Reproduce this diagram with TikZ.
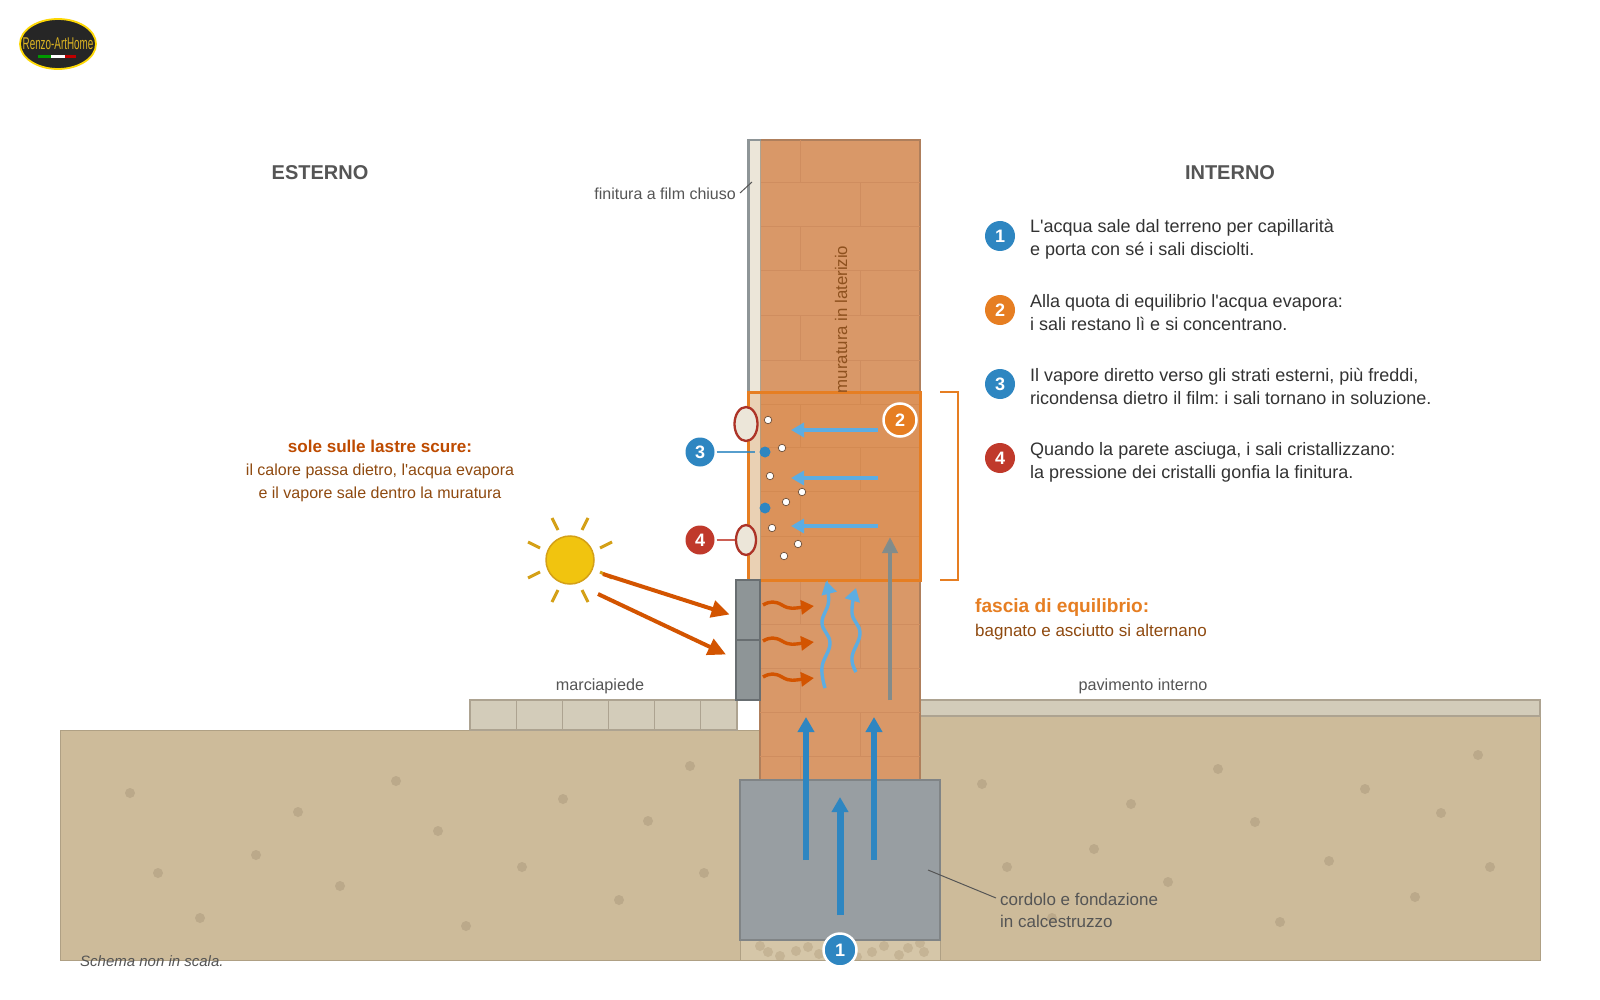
\documentclass[tikz,border=0pt]{standalone}
\usepackage{fontspec}
\setmainfont{Liberation Sans}
\usetikzlibrary{arrows.meta,calc,shapes.geometric}
\definecolor{soil}{HTML}{CDBB9A}
\definecolor{soildot}{HTML}{BBA98A}
\definecolor{soiledge}{HTML}{AFA084}
\definecolor{bedfill}{HTML}{D5C6A8}
\definecolor{stonefill}{HTML}{C5B495}
\definecolor{pave}{HTML}{D3CCBA}
\definecolor{paveedge}{HTML}{ADA391}
\definecolor{brick}{HTML}{D99868}
\definecolor{brickedge}{HTML}{AF7F5C}
\definecolor{joint}{HTML}{CF8D5F}
\definecolor{concrete}{HTML}{989EA2}
\definecolor{concreteedge}{HTML}{808486}
\definecolor{slab}{HTML}{8E9597}
\definecolor{slabedge}{HTML}{686E71}
\definecolor{film}{HTML}{ECE6D9}
\definecolor{bandorange}{HTML}{E67E22}
\definecolor{wetblue}{HTML}{2E86C1}
\definecolor{vapour}{HTML}{5DADE2}
\definecolor{heat}{HTML}{D35400}
\definecolor{blister}{HTML}{C0392B}
\definecolor{sunfill}{HTML}{F1C40F}
\definecolor{sunedge}{HTML}{D4A017}
\definecolor{inkgrey}{HTML}{555555}
\definecolor{inkdark}{HTML}{333333}
\definecolor{inkbrown}{HTML}{8F4A10}
\definecolor{riseGrey}{HTML}{7F8C8D}
\tikzset{
  x=1pt,y=-1pt,
  lab/.style={inner sep=0pt,text=inkgrey,font=\fontsize{16.2}{18}\selectfont},
  listline/.style={inner sep=0pt,anchor=base west,text=inkdark,font=\fontsize{18}{20}\selectfont},
  badge/.style={circle,fill=#1,text=white,inner sep=0pt,minimum size=30pt,font=\bfseries\fontsize{18}{20}\selectfont},
  ringbadge/.style={circle,fill=#1,draw=white,line width=2.5pt,text=white,inner sep=0pt,minimum size=33pt,font=\bfseries\fontsize{18}{20}\selectfont},
  soilgrain/.style={circle,fill=soildot,inner sep=0pt,minimum size=10pt},
  gravel/.style={circle,fill=stonefill,inner sep=0pt,minimum size=10pt},
  saltdot/.style={circle,fill=white,draw=brickedge!60!black,line width=0.7pt,inner sep=0pt,minimum size=7.5pt},
  wetdot/.style={circle,fill=wetblue,inner sep=0pt,minimum size=11pt},
  blisterblob/.style={ellipse,fill=film,draw=blister!90!black,line width=2.3pt,inner sep=0pt},
  capillary/.style={draw=wetblue,line width=#1,-{Triangle[length=15pt,width=16pt]}},
  vapourflow/.style={draw=vapour,line width=4pt,-{Triangle[length=13pt,width=14pt]}},
  vapourwave/.style={draw=vapour,line width=3.4pt,-{Triangle[length=13pt,width=15pt]}},
  heatwave/.style={draw=heat,line width=3.4pt,-{Triangle[length=13pt,width=14pt]}},
  sunbeam/.style={draw=heat,line width=4pt,-{Triangle[length=18pt,width=17pt]}},
  sunray/.style={draw=sunedge,line width=3pt},
  brickjoint/.style={draw=joint,line width=1pt},
  leader/.style={draw=inkgrey,line width=1pt},
}
\begin{document}
\frenchspacing
\begin{tikzpicture}
\useasboundingbox (0,0) rectangle (1600,1000);
\fill[white] (0,0) rectangle (1600,1000);

% ground on both sides of the wall
\draw[fill=soil,draw=soiledge,line width=1pt] (60,730) rectangle (760,960);
\draw[fill=soil,draw=soiledge,line width=1pt] (920,715) rectangle (1540,960);
\foreach \i/\p in {1/{130,793},2/{158,873},3/{200,918},4/{256,855},5/{298,812},6/{340,886},7/{396,781},8/{438,831},9/{466,926},10/{522,867},11/{563,799},12/{619,900},13/{648,821},14/{690,766},15/{704,873},
  16/{982,784},17/{1007,867},18/{1052,918},19/{1094,849},20/{1131,804},21/{1168,882},22/{1218,769},23/{1255,822},24/{1280,922},25/{1329,861},26/{1365,789},27/{1415,897},28/{1441,813},29/{1478,755},30/{1490,867}}
  \node[soilgrain] (grain\i) at (\p) {};

% outdoor pavement and indoor floor
\draw[fill=pave,draw=paveedge,line width=1.5pt] (470,700) rectangle (737,730);
\foreach \i/\x in {1/516,2/562,3/608,4/654,5/700}
  \draw[paveedge,line width=1pt] (\x,700) -- (\x,730);
\draw[fill=pave,draw=paveedge,line width=1.5pt] (920,700) rectangle (1540,716);

% gravel bed under the foundation
\fill[bedfill] (740,940) rectangle (940,960);
\begin{scope}
  \clip (740,940) rectangle (940,960);
  \foreach \i/\p in {1/{760,946},2/{768,952},3/{780,956},4/{796,951},5/{808,947},6/{819,954},7/{857,957},8/{872,952},9/{884,946},10/{899,955},11/{908,948},12/{920,943},13/{924,952}}
    \node[gravel] (stone\i) at (\p) {};
\end{scope}
\draw[soiledge,line width=1pt] (740,940) -- (740,960) -- (940,960) -- (940,940);

% brick wall with staggered joints
\draw[fill=brick,draw=brickedge,line width=2pt] (760,140) rectangle (920,780);
\foreach \y in {183,227,271,315,360,404,447,491,536,580,624,668,712,756}
  \draw[brickjoint] (760,\y) -- (920,\y);
\foreach \a/\b/\x in {140/183/800,183/227/860,227/271/800,271/315/860,315/360/800,360/404/860,404/447/800,447/491/860,491/536/800,536/580/860,580/624/800,624/668/860,668/712/800,712/756/860,756/780/800}
  \draw[brickjoint] (\x,\a) -- (\x,\b);

% closed film finish on the outer face
\fill[film] (748,140) rectangle (760,580);
\draw[paveedge,line width=1pt] (760,140) -- (760,580);
\draw[draw=slab,line width=3pt] (748,139) -- (748,392);
\draw[draw=slab,line width=1.5pt] (747,140) -- (761,140);

% equilibrium band
\fill[bandorange,fill opacity=0.2] (748,392) rectangle (920,580);
\draw[draw=bandorange,line width=3pt] (748,392) rectangle (920,580);
\coordinate (brA) at (940,392);
\coordinate (brB) at (958,392);
\coordinate (brC) at (958,580);
\coordinate (brD) at (940,580);
\draw[bandorange,line width=2.4pt] (brA) -- (brB) -- (brC) -- (brD);

% dark slabs at the wall foot
\draw[fill=slab,draw=slabedge,line width=2pt] (736,580) rectangle (760,640);
\draw[fill=slab,draw=slabedge,line width=2pt] (736,640) rectangle (760,700);

% foundation
\draw[fill=concrete,draw=concreteedge,line width=2pt] (740,780) rectangle (940,940);

% water rising from the ground
\coordinate (capAs) at (840,915); \coordinate (capAe) at (840,797);
\coordinate (capBs) at (806,860); \coordinate (capBe) at (806,717);
\coordinate (capCs) at (874,860); \coordinate (capCe) at (874,717);
\draw[capillary=6pt] (capBs) -- (capBe);
\draw[capillary=6pt] (capCs) -- (capCe);
\draw[capillary=7pt] (capAs) -- (capAe);

% vapour rising inside the masonry
\coordinate (riseS) at (890,700); \coordinate (riseE) at (890,537);
\draw[draw=riseGrey,draw opacity=0.95,line width=4.5pt,-{Triangle[length=16pt,width=15pt]}] (riseS) -- (riseE);
\draw[vapourwave] plot[smooth,tension=0.7] coordinates {(825,688) (822,667) (830,643) (822,623) (828.5,602) (826,581)};
\draw[vapourwave] plot[smooth,tension=0.7] coordinates {(856,672) (852,657) (860,633) (852,613) (856,588)};

% heat passing through the slabs
\foreach \i/\y in {1/606,2/642,3/678}
  \draw[heatwave] (763,\y-1) .. controls (770,\y-5) and (775,\y-5) .. (782,\y-1) .. controls (790,\y+4) and (795,\y+2) .. (814,\y);

% vapour driven outward
\foreach \i/\y in {1/430,2/478,3/526} {
  \coordinate (flowS\i) at (878,\y);
  \coordinate (flowE\i) at (791,\y);
  \draw[vapourflow] (flowS\i) -- (flowE\i);
}

% salts and condensation behind the film
\foreach \i/\p in {1/{768,420},2/{782,448},3/{770,476},4/{802,492},5/{786,502},6/{772,528},7/{798,544},8/{784,556}}
  \node[saltdot] (salt\i) at (\p) {};
\node[wetdot] (wetA) at (765,452) {};
\node[wetdot] (wetB) at (765,508) {};

% blisters in the finish
\node[blisterblob,minimum width=23pt,minimum height=34pt] (blisterA) at (746,424) {};
\node[blisterblob,minimum width=20pt,minimum height=30pt] (blisterB) at (746,540) {};

% numbered markers on the section
\node[badge=wetblue,minimum size=29pt] (markThree) at (700,452) {3};
\node[badge=blister,minimum size=29pt] (markFour) at (700,540) {4};
\draw[wetblue,draw opacity=0.8,line width=1.5pt,shorten <=2pt,shorten >=4pt] (markThree.east) -- (wetA.west);
\draw[blister,draw opacity=0.8,line width=1.5pt,shorten <=2pt] (markFour.east) -- (blisterB.west);
\node[ringbadge=bandorange] (markTwo) at (900,420) {2};
\node[ringbadge=wetblue] (markOne) at (840,950) {1};

% sun and its rays
\node[circle,fill=sunfill,draw=sunedge,line width=1.5pt,minimum size=48pt,inner sep=0pt] (sun) at (570,560) {};
\foreach \dx/\dy/\ex/\ey in {12/30/18/42,30/12/42/18,-12/30/-18/42,-30/12/-42/18,12/-30/18/-42,30/-12/42/-18,-12/-30/-18/-42,-30/-12/-42/-18}
  \draw[sunray] ($(sun.center)+(\dx,\dy)$) -- ($(sun.center)+(\ex,\ey)$);
\coordinate (beamAs) at (603,574); \coordinate (beamAe) at (729.5,614.5);
\coordinate (beamBs) at (598,594); \coordinate (beamBe) at (726,654.5);
\draw[sunbeam] (beamAs) -- (beamAe);
\draw[sunbeam] (beamBs) -- (beamBe);

% side headings
\node[inner sep=0pt,text=inkgrey,font=\bfseries\fontsize{20}{24}\selectfont] (headOut) at (320,173) {ESTERNO};
\node[inner sep=0pt,text=inkgrey,font=\bfseries\fontsize{20}{24}\selectfont] (headIn) at (1230,173) {INTERNO};

% construction labels
\node[lab,anchor=base east,font=\fontsize{16}{18}\selectfont] (lblFilm) at (736,200) {finitura a film chiuso};
\coordinate (filmTip) at (752,182);
\draw[leader] (740,193) -- (filmTip);
\node[lab,rotate=90,anchor=center,text=inkbrown!80!brick!90!black,font=\fontsize{16.8}{18}\selectfont] (lblWall) at (841,319.5) {muratura in laterizio};
\node[lab,anchor=base] (lblWalk) at (600,690) {marciapiede};
\node[lab,anchor=base] (lblFloor) at (1143,690) {pavimento interno};
\node[lab,anchor=base west,font=\fontsize{17}{18}\selectfont] (lblCurbA) at (1000,905) {cordolo e fondazione};
\node[lab,anchor=base west,font=\fontsize{17}{18}\selectfont] (lblCurbB) at (1000,927) {in calcestruzzo};
\coordinate (curbTip) at (928,870);
\coordinate (curbEnd) at (996,898);
\draw[leader] (curbTip) -- (curbEnd);

% note on the sun
\node[inner sep=0pt,anchor=base,text=heat!90!black,font=\bfseries\fontsize{17.1}{18}\selectfont] (sunHead) at (380,452) {sole sulle lastre scure:};
\node[inner sep=0pt,anchor=base,text=inkbrown,font=\fontsize{16}{18}\selectfont] (sunA) at (380,475) {il calore passa dietro, l\textquotesingle acqua evapora};
\node[inner sep=0pt,anchor=base,text=inkbrown,font=\fontsize{16}{18}\selectfont] (sunB) at (380,498) {e il vapore sale dentro la muratura};

% note on the band
\node[inner sep=0pt,anchor=base west,text=bandorange,font=\bfseries\fontsize{19.1}{20}\selectfont] (bandHead) at (975,612) {fascia di equilibrio:};
\node[inner sep=0pt,anchor=base west,text=inkbrown,font=\fontsize{17}{18}\selectfont] (bandText) at (975,636) {bagnato e asciutto si alternano};

% numbered legend
\node[badge=wetblue] (keyOne) at (1000,236) {1};
\node[listline] (keyOneA) at (1030,233) {L\textquotesingle acqua sale dal terreno per capillarità};
\node[listline] (keyOneB) at (1030,256) {e porta con sé i sali disciolti.};
\node[badge=bandorange] (keyTwo) at (1000,310) {2};
\node[listline] (keyTwoA) at (1030,307) {Alla quota di equilibrio l\textquotesingle acqua evapora:};
\node[listline] (keyTwoB) at (1030,330) {i sali restano lì e si concentrano.};
\node[badge=wetblue] (keyThree) at (1000,384) {3};
\node[listline] (keyThreeA) at (1030,381) {Il vapore diretto verso gli strati esterni, più freddi,};
\node[listline] (keyThreeB) at (1030,404) {ricondensa dietro il film: i sali tornano in soluzione.};
\node[badge=blister] (keyFour) at (1000,458) {4};
\node[listline] (keyFourA) at (1030,455) {Quando la parete asciuga, i sali cristallizzano:};
\node[listline] (keyFourB) at (1030,478) {la pressione dei cristalli gonfia la finitura.};

% scale note
\node[inner sep=0pt,anchor=base west,text=inkgrey,font=\itshape\fontsize{15}{16}\selectfont] (scaleNote) at (80,966) {Schema non in scala.};

% maker's badge
\node[ellipse,fill=black!85,draw=yellow!75!orange,line width=1.8pt,minimum width=76pt,minimum height=50pt,inner sep=0pt] (logo) at (58,44) {};
\node[inner sep=0pt,text=yellow!60!orange!85!black,font=\fontsize{17}{18}\selectfont,xscale=0.58] (logoText) at (58,44) {Renzo-ArtHome};
\fill[green!60!black] (38,55.5) rectangle (51,58.5);
\fill[white] (51,55.5) rectangle (65,58.5);
\fill[red!75!black] (65,55.5) rectangle (76,58.5);
\end{tikzpicture}
\end{document}
